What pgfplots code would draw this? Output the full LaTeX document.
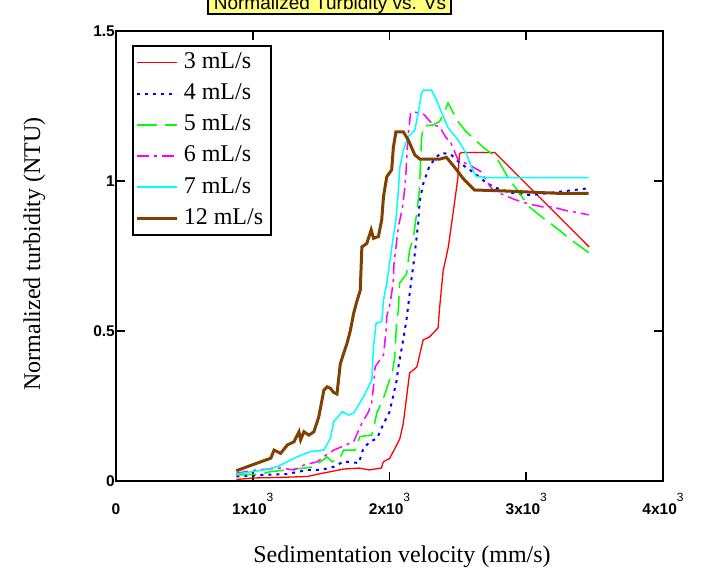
\documentclass[border=0pt]{standalone}
\usepackage{fontspec}
\setmainfont{Liberation Serif}
\newfontfamily\sansf{Liberation Sans}
\usepackage{pgfplots}
\pgfplotsset{compat=1.18}
\definecolor{myred}{RGB}{255,0,0}
\definecolor{myblue}{RGB}{0,0,255}
\definecolor{mygreen}{RGB}{0,255,0}
\definecolor{mymag}{RGB}{255,0,255}
\definecolor{mycyan}{RGB}{0,255,255}
\definecolor{mybrown}{RGB}{128,64,0}
\definecolor{titley}{RGB}{255,255,128}
\newcommand{\xt}[1]{{\sansf\bfseries #1x10}\raisebox{13bp}{\sansf\fontsize{12bp}{12bp}\selectfont 3}}
\begin{document}
\begin{tikzpicture}
\begin{axis}[
  at={(116bp,104bp)}, anchor=south west,
  scale only axis, width=547bp, height=450bp,
  xmin=0, xmax=4000, ymin=0, ymax=1.5,
  xtick={0,1000,2000,3000,4000},
  xticklabels={{\sansf\bfseries 0},\xt{1},\xt{2},\xt{3},\xt{4}},
  ytick={0,0.5,1,1.5},
  yticklabels={0,0.5,1,1.5},
  yticklabel style={font=\sansf\bfseries\fontsize{15.5bp}{15.5bp}\selectfont, anchor=east, inner sep=0pt, xshift=-1bp},
  xticklabel style={font=\fontsize{15.5bp}{15.5bp}\selectfont, anchor=base, inner sep=0pt, yshift=-34bp},
  tick align=inside, major tick length=9bp,
  every tick/.style={black, line width=1.6bp},
  axis line style={line width=1.6bp},
  legend cell align=left,
  legend image code/.code={\draw (0bp,0bp) -- (40bp,0bp);},
  legend style={at={(rel axis cs:0,1)}, anchor=north west, xshift=16bp, yshift=-14bp,
    draw=black, line width=1.6bp, inner xsep=3bp, inner ysep=1bp,
    font=\fontsize{24bp}{24bp}\selectfont, row sep=0pt,
    nodes={text height=17bp, text depth=5bp, inner ysep=4.6bp, inner xsep=5bp}},
]
\addplot[myred, line width=1.3bp, no markers] coordinates {
(880,0.005)(1000,0.01)(1200,0.012)(1400,0.015)(1500,0.025)(1590,0.033)(1665,0.04)(1780,0.043)(1850,0.037)(1940,0.043)(1955,0.064)(2000,0.075)(2030,0.10)(2075,0.14)(2100,0.19)(2125,0.28)(2147,0.36)(2200,0.38)(2246,0.47)(2292,0.48)(2355,0.51)(2365,0.57)(2392,0.70)(2430,0.78)(2464,0.89)(2500,1.01)(2512,1.09)(2525,1.095)(2770,1.095)(3460,0.78)};
\addlegendentry{3 mL/s}
\addplot[myblue, line width=2bp, dash pattern=on 3bp off 5bp, no markers] coordinates {
(880,0.015)(1060,0.02)(1250,0.023)(1400,0.037)(1500,0.037)(1590,0.047)(1665,0.065)(1775,0.06)(1790,0.08)(1810,0.11)(1856,0.13)(1910,0.143)(1955,0.19)(2000,0.23)(2050,0.33)(2065,0.38)(2100,0.47)(2125,0.54)(2160,0.67)(2183,0.75)(2210,0.86)(2220,0.93)(2246,0.99)(2292,1.05)(2343,1.08)(2380,1.094)(2450,1.088)(2490,1.07)(2546,1.05)(2610,1.03)(2673,1.007)(2720,0.99)(2780,0.977)(2900,0.96)(3030,0.953)(3240,0.964)(3460,0.976)};
\addlegendentry{4 mL/s}
\addplot[mygreen, line width=1.5bp, dash pattern=on 20bp off 8bp, no markers] coordinates {
(880,0.02)(1060,0.023)(1130,0.031)(1250,0.037)(1375,0.043)(1455,0.048)(1493,0.064)(1544,0.08)(1580,0.064)(1639,0.077)(1665,0.103)(1747,0.103)(1783,0.148)(1870,0.153)(1883,0.176)(1907,0.226)(1965,0.287)(2000,0.337)(2016,0.35)(2038,0.41)(2052,0.53)(2065,0.57)(2074,0.66)(2125,0.69)(2147,0.77)(2174,0.81)(2198,0.89)(2217,0.96)(2222,1.01)(2227,1.06)(2234,1.14)(2246,1.183)(2319,1.187)(2365,1.198)(2392,1.22)(2428,1.26)(2501,1.198)(2561,1.164)(2694,1.109)(2779,1.081)(2864,1.014)(2924,0.976)(3021,0.914)(3094,0.887)(3239,0.837)(3312,0.809)(3457,0.761)};
\addlegendentry{5 mL/s}
\addplot[mymag, line width=1.5bp, dash pattern=on 12bp off 5bp on 3bp off 5bp, no markers] coordinates {
(880,0.026)(1035,0.037)(1200,0.043)(1300,0.037)(1374,0.053)(1471,0.064)(1556,0.093)(1592,0.103)(1665,0.117)(1738,0.131)(1798,0.193)(1847,0.231)(1871,0.264)(1883,0.314)(1895,0.381)(1956,0.42)(1975,0.503)(1980,0.548)(2004,0.592)(2016,0.626)(2028,0.67)(2033,0.726)(2065,0.848)(2094,0.909)(2113,0.981)(2120,1.026)(2130,1.111)(2137,1.156)(2154,1.226)(2174,1.231)(2251,1.222)(2319,1.187)(2367,1.181)(2416,1.142)(2440,1.137)(2476,1.098)(2501,1.07)(2585,1.053)(2670,1.031)(2706,1.003)(2755,0.97)(2852,0.95)(2924,0.937)(3021,0.923)(3118,0.914)(3191,0.914)(3275,0.903)(3384,0.894)(3457,0.887)};
\addlegendentry{6 mL/s}
\addplot[mycyan, line width=1.5bp, no markers] coordinates {
(880,0.023)(1084,0.037)(1180,0.048)(1326,0.081)(1422,0.098)(1520,0.103)(1568,0.142)(1592,0.198)(1653,0.231)(1701,0.22)(1738,0.226)(1810,0.281)(1871,0.337)(1883,0.448)(1902,0.526)(1943,0.531)(1956,0.603)(1980,0.659)(2004,0.737)(2028,0.814)(2047,0.87)(2065,0.97)(2076,1.048)(2101,1.103)(2137,1.148)(2185,1.17)(2210,1.226)(2234,1.292)(2246,1.303)(2307,1.303)(2343,1.27)(2392,1.217)(2428,1.178)(2501,1.137)(2561,1.092)(2597,1.048)(2634,1.015)(2730,1.011)(3457,1.011)};
\addlegendentry{7 mL/s}
\addplot[mybrown, line width=3bp, no markers] coordinates {
(880,0.034)(962,0.048)(1059,0.064)(1132,0.076)(1156,0.103)(1204,0.092)(1253,0.12)(1302,0.131)(1338,0.164)(1350,0.137)(1374,0.164)(1411,0.153)(1447,0.164)(1483,0.214)(1520,0.303)(1544,0.314)(1568,0.309)(1592,0.295)(1616,0.29)(1640,0.39)(1665,0.426)(1690,0.46)(1713,0.5)(1738,0.559)(1762,0.6)(1786,0.635)(1798,0.78)(1834,0.792)(1866,0.837)(1883,0.809)(1919,0.815)(1943,0.87)(1956,0.948)(1980,1.014)(2016,1.037)(2028,1.111)(2047,1.164)(2101,1.164)(2137,1.137)(2185,1.087)(2222,1.073)(2367,1.073)(2416,1.079)(2452,1.059)(2488,1.039)(2537,1.009)(2621,0.97)(2828,0.967)(3227,0.959)(3457,0.959)};
\addlegendentry{12 mL/s}
\end{axis}
\fill[titley] (208bp,571bp) rectangle (451bp,600bp);
\draw[line width=1.5bp] (208bp,600bp) -- (208bp,571bp) -- (451bp,571bp) -- (451bp,600bp);
\node[anchor=base, font=\sansf\fontsize{19bp}{19bp}\selectfont, inner sep=0pt] at (330bp,575.5bp) {Normalized Turbidity vs. Vs};
\node[anchor=base, font=\fontsize{24bp}{24bp}\selectfont, inner sep=0pt] at (402bp,23bp) {Sedimentation velocity (mm/s)};
\node[anchor=base, rotate=90, font=\fontsize{24bp}{24bp}\selectfont, inner sep=0pt] at (40bp,331bp) {Normalized turbidity (NTU)};
\pgfresetboundingbox
\path[use as bounding box] (0bp,0bp) rectangle (718bp,585bp);
\end{tikzpicture}
\end{document}
